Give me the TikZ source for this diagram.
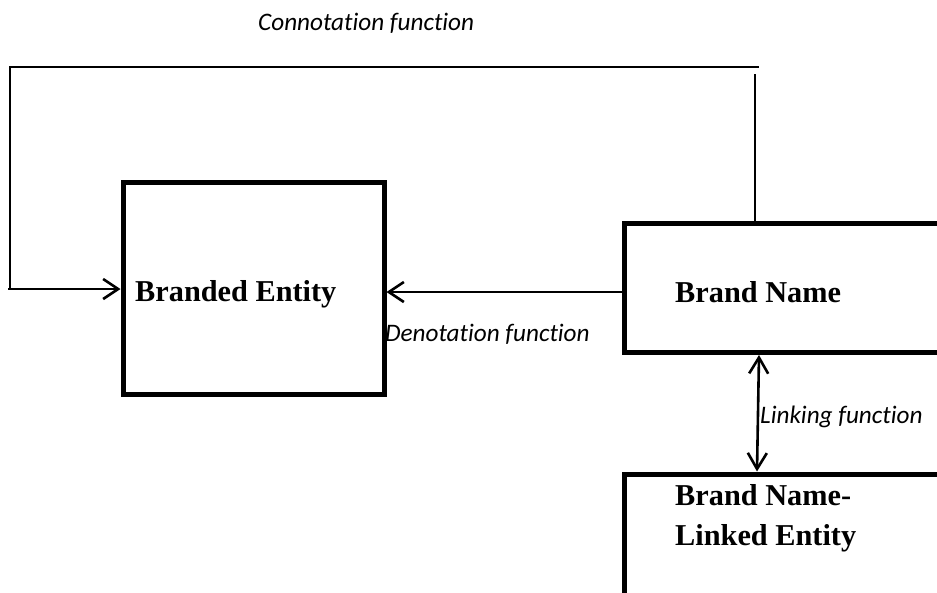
\documentclass[tikz,border=0pt]{standalone}
\usepackage{fontspec}
\setmainfont{Liberation Serif}
\newfontfamily\labfont[Ligatures=NoCommon]{Carlito}
\usetikzlibrary{arrows.meta}
\begin{document}
\begin{tikzpicture}[x=1pt,y=-1pt,
  box/.style={draw,line width=5pt,rectangle,inner sep=0pt},
  boxtext/.style={anchor=base west,inner sep=0pt,font=\fontsize{30.3}{36}\selectfont\bfseries},
  labtext/.style={anchor=base west,inner sep=0pt,font=\labfont\itshape\fontsize{25.2}{30}\selectfont},
  conn/.style={line width=2.6pt},
  arr/.style={conn,-{Straight Barb[length=15pt,width=20pt]}},
  darr/.style={conn,{Straight Barb[length=16pt,width=19pt]}-{Straight Barb[length=16pt,width=19pt]}}]
\useasboundingbox (0,0) rectangle (937,592);
\clip (0,0) rectangle (937,592);
% boxes
\node[box,minimum width=261pt,minimum height=212pt] (be) at (253.5,288) {};
\node[box,minimum width=366pt,minimum height=129.5pt] (bn) at (807,287.75) {};
\node[box,minimum width=366pt,minimum height=166pt] (bl) at (807,557) {};
% texts
\node[boxtext] (tbe) at (135,301) {Branded Entity};
\node[boxtext] (tbn) at (675,302) {Brand Name};
\node[boxtext] (tbl1) at (675,505) {Brand Name-};
\node[boxtext] (tbl2) at (675,545) {Linked Entity};
\node[labtext] (lcon) at (258,30) {Connotation function};
\node[labtext] (lden) at (385,341) {Denotation function};
\node[labtext] (llin) at (760,423) {Linking function};
% connotation
\coordinate (c1) at (755,74);
\coordinate (c2) at (758,67);
\coordinate (c3) at (10,67);
\coordinate (c4) at (10,289);
\coordinate (c5) at (8,289);
\draw[conn] (bn.north -| c1) -- (c1);
\draw[conn,line cap=rect] (c2) -- (c3) -- (c4);
\draw[arr] (c5) -- (be.west |- c5);
% denotation
\coordinate (d1) at (0,292);
\draw[arr] (bn.west |- d1) -- (be.east |- d1);
% linking
\coordinate (l1) at (759,0);
\coordinate (l2) at (757,0);
\draw[darr] (bn.south -| l1) -- (bl.north -| l2);
\end{tikzpicture}
\end{document}
